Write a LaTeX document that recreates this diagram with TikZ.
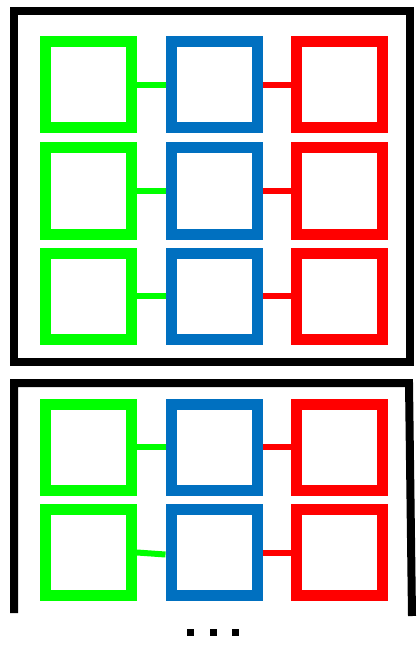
\documentclass[tikz,border=0pt]{standalone}
\usetikzlibrary{calc,positioning}
\definecolor{cellgreen}{RGB}{0,255,0}
\definecolor{cellblue}{RGB}{0,112,192}
\definecolor{cellred}{RGB}{255,0,0}

\begin{document}
\begin{tikzpicture}[x=1pt, y=-1pt,
    cell/.style={draw, line width=11pt, minimum size=86pt, inner sep=0pt},
    frame/.style={line width=8pt},
    link/.style={line width=6pt}]
    \useasboundingbox (0,0) rectangle (419,652);

    % --- Outer frames ---
    \draw[frame] (13.5,11) rectangle (409.5,361.5);
    \draw[frame, line join=miter] (14,613) -- (14,383) -- (409,383) -- (412,616);

    % --- Cells: green, blue, red per row ---
    \foreach \r/\y in {1/85, 2/191, 3/296, 4/447, 5/552.5} {
      \node[cell, cellgreen] (g\r) at (88.5,\y) {};
      \node[cell, cellblue]  (b\r) at (214,\y) {};
      \node[cell, cellred]   (r\r) at (339,\y) {};
    }

    % --- Links between cells ---
    \foreach \r in {1,2,3,4} {
      \draw[link, cellgreen] (g\r) -- (b\r);
      \draw[link, cellred] (b\r) -- (r\r);
    }
    \draw[link, cellgreen] (g5.east) -- ([yshift=-2pt]b5.west);
    \draw[link, cellred] (b5) -- (r5);

    % --- Continuation dots ---
    \foreach \x in {190,213,235}
      \fill (\x-3.5,628.5) rectangle ++(7,7);
\end{tikzpicture}
\end{document}
